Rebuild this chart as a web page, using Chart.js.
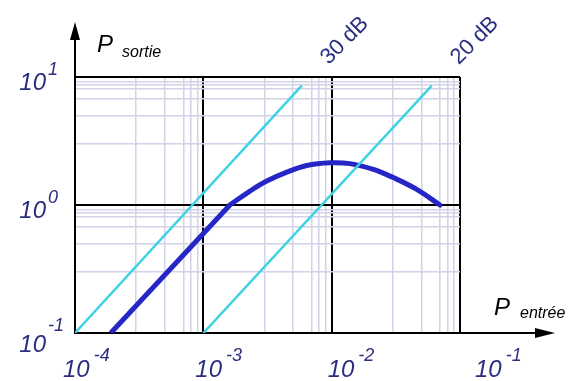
<!DOCTYPE html>
<html lang="fr">
<head>
    <meta charset="UTF-8">
    <title>P sortie / P entrée</title>
    <style>
        body {
            margin: 0;
            background: #ffffff;
        }

        .chartBox {
            width: 571px;
            height: 381px;
        }
    </style>
    <script src="https://cdn.jsdelivr.net/npm/chart.js"></script>
</head>
<body>
    <div class="chartBox">
        <canvas id="gainChart"></canvas>
    </div>
    <script>
        // Droites de gain constant (entrée -> sortie)
        const gain30In = [1e-4, 5.85e-3];
        const gain30Out = [0.1, 8.57];
        const gain20In = [1e-3, 6.03e-2];
        const gain20Out = [0.1, 8.57];

        // Caractéristique de l'amplificateur
        const ampIn = [1.9e-4, 1.61e-3, 2.31e-3, 3.12e-3, 4.47e-3, 6.40e-3, 9.70e-3, 1.39e-2, 2.11e-2, 3.02e-2, 4.60e-2, 6.98e-2];
        const ampOut = [0.1, 1.0, 1.285, 1.538, 1.807, 2.037, 2.138, 2.104, 1.897, 1.637, 1.324, 1.0];

        const gainLabels = ['30 dB', '20 dB'];

        // Graduations
        const xDecades = [1e-4, 1e-3, 1e-2, 1e-1];
        const yDecades = [0.1, 1, 10];
        const xMinorSteps = [3, 5, 7, 8, 9];
        const yMinorSteps = [3, 5, 6.8, 8.1, 8.7, 9.25];

        const NAVY = '#2b2e7e';
        const CYAN = '#3fd2e2';
        const BLUE = '#2626c6';

        const toPoints = (xs, ys) => xs.map((x, i) => ({ x: x, y: ys[i] }));

        const buildTicks = (decades, steps) => {
            const values = [];
            decades.forEach((d, i) => {
                values.push(d);
                if (i < decades.length - 1) {
                    steps.forEach(s => values.push(d * s));
                }
            });
            return values.map(v => ({ value: v }));
        };

        const isDecade = v => Math.abs(Math.log10(v) - Math.round(Math.log10(v))) < 1e-6;

        const gridOpts = {
            drawTicks: false,
            color: ctx => isDecade(ctx.tick.value) ? '#000000' : '#d2d2e8',
            lineWidth: ctx => isDecade(ctx.tick.value) ? 2 : 1.5
        };

        // Étiquettes 10^n, titres des axes, flèches et étiquettes des droites
        const decorPlugin = {
            id: 'decor',
            afterDraw(chart) {
                const ctx = chart.ctx;
                const xs = chart.scales.x;
                const ys = chart.scales.y;
                const area = chart.chartArea;
                ctx.save();

                // flèches des axes
                ctx.strokeStyle = '#000';
                ctx.fillStyle = '#000';
                ctx.lineWidth = 2;
                ctx.beginPath();
                ctx.moveTo(area.left, area.top);
                ctx.lineTo(area.left, 34);
                ctx.moveTo(area.right, area.bottom);
                ctx.lineTo(540, area.bottom);
                ctx.stroke();
                ctx.beginPath();
                ctx.moveTo(area.left, 22);
                ctx.lineTo(area.left - 5, 40);
                ctx.lineTo(area.left + 5, 40);
                ctx.closePath();
                ctx.moveTo(555, area.bottom);
                ctx.lineTo(535, area.bottom - 5);
                ctx.lineTo(535, area.bottom + 5);
                ctx.closePath();
                ctx.fill();

                // titres
                ctx.textBaseline = 'alphabetic';
                ctx.textAlign = 'left';
                ctx.font = 'italic 24px "Liberation Sans", Arial, sans-serif';
                ctx.fillText('P', area.left + 22, area.top - 25);
                ctx.fillText('P', area.right + 34, area.bottom - 18);
                ctx.font = 'italic 16px "Liberation Sans", Arial, sans-serif';
                ctx.fillText('sortie', area.left + 47, area.top - 20);
                ctx.fillText('entrée', area.right + 60, area.bottom - 15);

                // graduations 10^n
                ctx.fillStyle = NAVY;
                const bigFont = 'italic 24px "Liberation Sans", Arial, sans-serif';
                const supFont = 'italic 18px "Liberation Sans", Arial, sans-serif';

                yDecades.forEach((v, i) => {
                    const py = ys.getPixelForValue(v);
                    const exp = Math.round(Math.log10(v));
                    ctx.font = bigFont;
                    ctx.textAlign = 'right';
                    ctx.fillText('10', area.left - 29, py + (i === 0 ? 19 : 13));
                    ctx.font = supFont;
                    ctx.textAlign = 'left';
                    ctx.fillText(String(exp), area.left - 27, py - 2);
                });

                const xNudge = [-12, -8, -4, 15];
                xDecades.forEach((v, i) => {
                    const px = xs.getPixelForValue(v) + xNudge[i];
                    const exp = Math.round(Math.log10(v));
                    ctx.font = bigFont;
                    ctx.textAlign = 'left';
                    ctx.fillText('10', px, area.bottom + 44);
                    const w = ctx.measureText('10').width;
                    ctx.font = supFont;
                    ctx.fillText(String(exp), px + w + 4, area.bottom + 28);
                });

                // étiquettes des droites de gain
                ctx.font = '22px "Liberation Sans", Arial, sans-serif';
                ctx.textAlign = 'center';
                ctx.textBaseline = 'middle';
                [0, 1].forEach(di => {
                    const pts = chart.getDatasetMeta(di).data;
                    const last = pts[pts.length - 1];
                    ctx.save();
                    ctx.translate(last.x + 43, last.y - 45);
                    ctx.rotate(-Math.PI / 4);
                    ctx.fillText(gainLabels[di], 0, 0);
                    ctx.restore();
                });

                ctx.restore();
            }
        };

        new Chart(document.getElementById('gainChart'), {
            type: 'line',
            data: {
                datasets: [
                    {
                        data: toPoints(gain30In, gain30Out),
                        borderColor: CYAN,
                        borderWidth: 2.5,
                        pointRadius: 0,
                        tension: 0
                    },
                    {
                        data: toPoints(gain20In, gain20Out),
                        borderColor: CYAN,
                        borderWidth: 2.5,
                        pointRadius: 0,
                        tension: 0
                    },
                    {
                        data: toPoints(ampIn.slice(0, 2), ampOut.slice(0, 2)),
                        borderColor: BLUE,
                        borderWidth: 5,
                        pointRadius: 0,
                        tension: 0
                    },
                    {
                        data: toPoints(ampIn.slice(1), ampOut.slice(1)),
                        borderColor: BLUE,
                        borderWidth: 5,
                        borderCapStyle: 'round',
                        pointRadius: 0,
                        tension: 0.4
                    }
                ]
            },
            options: {
                responsive: true,
                maintainAspectRatio: false,
                animation: false,
                layout: {
                    padding: { left: 75, right: 111, top: 77, bottom: 48 }
                },
                scales: {
                    x: {
                        type: 'logarithmic',
                        min: 1e-4,
                        max: 1e-1,
                        afterBuildTicks: scale => { scale.ticks = buildTicks(xDecades, xMinorSteps); },
                        ticks: { display: false },
                        grid: gridOpts,
                        border: { display: true, color: '#000', width: 2 }
                    },
                    y: {
                        type: 'logarithmic',
                        min: 0.1,
                        max: 10,
                        afterBuildTicks: scale => { scale.ticks = buildTicks(yDecades, yMinorSteps); },
                        ticks: { display: false },
                        grid: gridOpts,
                        border: { display: true, color: '#000', width: 2 }
                    }
                },
                plugins: {
                    legend: { display: false },
                    tooltip: { enabled: false }
                }
            },
            plugins: [decorPlugin]
        });
    </script>
</body>
</html>
